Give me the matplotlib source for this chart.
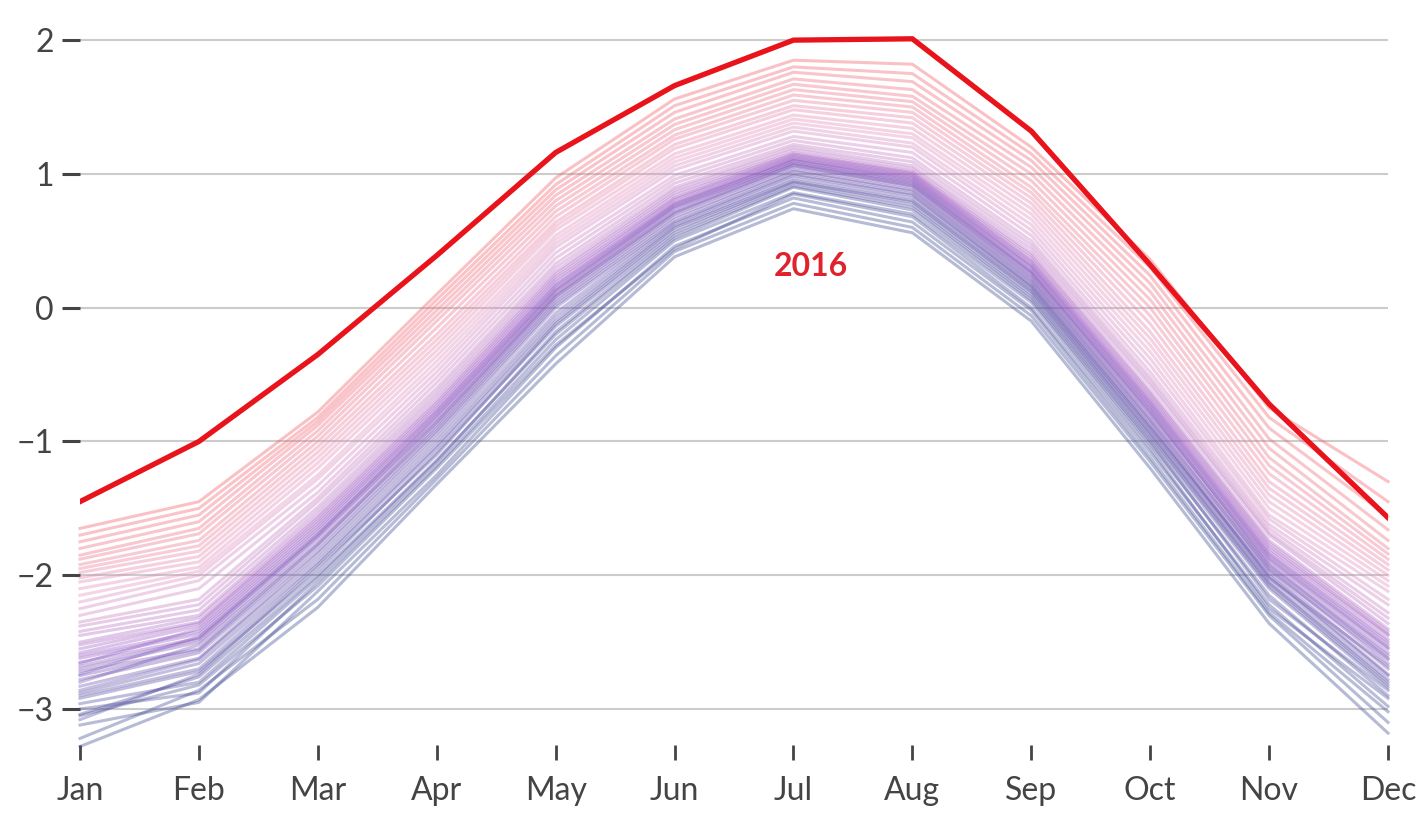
import numpy as np
import matplotlib
matplotlib.use("Agg")
import matplotlib.pyplot as plt
from matplotlib.colors import LinearSegmentedColormap

plt.rcParams['font.family'] = ['Lato', 'DejaVu Sans']

months = ["Jan", "Feb", "Mar", "Apr", "May", "Jun",
          "Jul", "Aug", "Sep", "Oct", "Nov", "Dec"]

# earliest (coldest) years
cold_years = [
    [-3.28, -2.93, -2.24, -1.32, -0.42, 0.38, 0.74, 0.56, -0.10, -1.20, -2.36, -3.18],
    [-3.22, -2.86, -2.18, -1.28, -0.36, 0.42, 0.78, 0.60, -0.06, -1.15, -2.30, -3.10],
    [-3.12, -2.95, -2.12, -1.25, -0.30, 0.46, 0.82, 0.64, -0.02, -1.12, -2.28, -3.02],
    [-3.05, -2.82, -2.08, -1.20, -0.28, 0.44, 0.85, 0.68, 0.00, -1.08, -2.22, -2.98],
    [-3.00, -2.88, -2.05, -1.18, -0.24, 0.50, 0.86, 0.70, 0.04, -1.05, -2.25, -2.92],
    [-3.04, -2.76, -2.00, -1.14, -0.20, 0.52, 0.90, 0.73, 0.06, -1.02, -2.15, -2.90],
    [-2.96, -2.80, -2.02, -1.15, -0.18, 0.54, 0.91, 0.75, 0.08, -1.00, -2.18, -2.86],
    [-2.92, -2.72, -1.97, -1.08, -0.14, 0.56, 0.93, 0.77, 0.10, -0.98, -2.10, -2.84],
    [-3.08, -2.74, -1.94, -1.10, -0.12, 0.58, 0.94, 0.79, 0.12, -0.96, -2.08, -2.82],
    [-2.90, -2.70, -1.92, -1.05, -0.10, 0.60, 0.95, 0.80, 0.13, -0.94, -2.06, -2.80],
    [-2.88, -2.66, -1.90, -1.03, -0.07, 0.61, 0.97, 0.82, 0.15, -0.93, -2.05, -2.78],
    [-2.86, -2.63, -1.87, -1.00, -0.04, 0.63, 0.99, 0.84, 0.16, -0.90, -2.02, -2.75],
]

# middle years
mid_years = [
    [-2.83, -2.62, -1.84, -0.97, 0.00, 0.64, 1.00, 0.85, 0.17, -0.90, -2.00, -2.74],
    [-2.78, -2.58, -1.82, -0.94, 0.02, 0.66, 1.02, 0.87, 0.19, -0.88, -1.98, -2.70],
    [-2.75, -2.56, -1.79, -0.92, 0.04, 0.68, 1.03, 0.88, 0.20, -0.86, -2.02, -2.68],
    [-2.80, -2.52, -1.76, -0.90, 0.06, 0.70, 1.05, 0.90, 0.22, -0.84, -1.95, -2.66],
    [-2.72, -2.55, -1.77, -0.88, 0.08, 0.71, 1.06, 0.91, 0.23, -0.83, -1.96, -2.63],
    [-2.70, -2.50, -1.73, -0.86, 0.09, 0.72, 1.07, 0.92, 0.25, -0.80, -1.93, -2.60],
    [-2.68, -2.48, -1.71, -0.85, 0.10, 0.74, 1.08, 0.93, 0.26, -0.79, -1.90, -2.58],
    [-2.74, -2.46, -1.69, -0.83, 0.12, 0.75, 1.08, 0.94, 0.27, -0.77, -1.92, -2.62],
    [-2.65, -2.47, -1.70, -0.81, 0.13, 0.76, 1.10, 0.95, 0.28, -0.76, -1.88, -2.55],
    [-2.62, -2.44, -1.67, -0.80, 0.14, 0.77, 1.10, 0.96, 0.30, -0.74, -1.87, -2.54],
    [-2.60, -2.42, -1.65, -0.78, 0.16, 0.78, 1.11, 0.97, 0.31, -0.73, -1.85, -2.52],
    [-2.66, -2.40, -1.63, -0.77, 0.17, 0.79, 1.12, 0.98, 0.32, -0.71, -1.84, -2.50],
    [-2.58, -2.38, -1.61, -0.75, 0.19, 0.81, 1.13, 0.99, 0.34, -0.70, -1.82, -2.48],
    [-2.55, -2.36, -1.59, -0.73, 0.21, 0.82, 1.14, 1.00, 0.35, -0.68, -1.80, -2.45],
    [-2.52, -2.35, -1.57, -0.71, 0.23, 0.84, 1.15, 1.01, 0.37, -0.66, -1.78, -2.44],
    [-2.50, -2.32, -1.55, -0.69, 0.25, 0.86, 1.16, 1.02, 0.39, -0.64, -1.76, -2.42],
    [-2.45, -2.30, -1.52, -0.66, 0.27, 0.88, 1.18, 1.04, 0.41, -0.62, -1.74, -2.40],
    [-2.42, -2.26, -1.49, -0.63, 0.30, 0.90, 1.20, 1.06, 0.44, -0.58, -1.70, -2.36],
    [-2.38, -2.22, -1.45, -0.60, 0.33, 0.93, 1.22, 1.09, 0.47, -0.55, -1.68, -2.32],
    [-2.35, -2.18, -1.42, -0.56, 0.37, 0.96, 1.25, 1.12, 0.50, -0.52, -1.65, -2.28],
]

# recent (warmest) years before 2016
warm_years = [
    [-2.30, -2.10, -1.38, -0.52, 0.41, 0.99, 1.28, 1.16, 0.54, -0.48, -1.62, -2.22],
    [-2.25, -2.04, -1.33, -0.48, 0.45, 1.03, 1.32, 1.20, 0.58, -0.43, -1.58, -2.18],
    [-2.20, -2.00, -1.28, -0.44, 0.48, 1.06, 1.35, 1.23, 0.62, -0.38, -1.55, -2.12],
    [-2.15, -1.97, -1.25, -0.40, 0.51, 1.09, 1.38, 1.27, 0.66, -0.33, -1.50, -2.08],
    [-2.10, -1.94, -1.20, -0.36, 0.54, 1.12, 1.41, 1.30, 0.70, -0.28, -1.45, -2.04],
    [-2.05, -1.90, -1.16, -0.32, 0.58, 1.15, 1.44, 1.34, 0.74, -0.23, -1.40, -2.00],
    [-2.02, -1.86, -1.12, -0.28, 0.61, 1.19, 1.48, 1.38, 0.78, -0.18, -1.35, -1.96],
    [-1.98, -1.82, -1.08, -0.24, 0.64, 1.22, 1.51, 1.42, 0.82, -0.12, -1.30, -1.92],
    [-1.95, -1.78, -1.04, -0.20, 0.68, 1.26, 1.55, 1.46, 0.86, -0.06, -1.24, -1.88],
    [-1.92, -1.74, -1.00, -0.15, 0.72, 1.29, 1.59, 1.50, 0.90, 0.00, -1.18, -1.84],
    [-1.88, -1.69, -0.96, -0.10, 0.76, 1.33, 1.63, 1.54, 0.95, 0.06, -1.12, -1.80],
    [-1.85, -1.65, -0.92, -0.06, 0.80, 1.37, 1.67, 1.58, 1.00, 0.12, -1.05, -1.74],
    [-1.80, -1.60, -0.88, -0.02, 0.84, 1.41, 1.71, 1.63, 1.05, 0.18, -0.98, -1.66],
    [-1.75, -1.55, -0.85, 0.02, 0.88, 1.46, 1.76, 1.69, 1.10, 0.24, -0.90, -1.56],
    [-1.70, -1.50, -0.82, 0.06, 0.92, 1.51, 1.80, 1.75, 1.15, 0.30, -0.82, -1.45],
    [-1.65, -1.45, -0.78, 0.10, 0.97, 1.56, 1.85, 1.82, 1.20, 0.36, -0.75, -1.30],
]

year_2016 = [-1.45, -1.00, -0.35, 0.39, 1.16, 1.66, 2.00, 2.01, 1.32, 0.32, -0.72, -1.57]
yticks = [-3, -2, -1, 0, 1, 2]

all_years = cold_years + mid_years + warm_years
x = np.arange(len(months))

cmap = LinearSegmentedColormap.from_list(
    "yrs", ["#34448c", "#6650ac", "#9656c4", "#e08cbc", "#f25560"])

fig = plt.figure(figsize=(14.22, 8.15), dpi=100)
ax = fig.add_axes([80 / 1422, 70 / 815, 1308 / 1422, 745 / 815])

for i, vals in enumerate(all_years):
    c = cmap(i / (len(all_years) - 1))
    ax.plot(x, vals, color=c, lw=2.2, alpha=0.36, clip_on=False, zorder=2)

ax.plot(x, year_2016, color="#e8131b", lw=3.8, zorder=5, solid_joinstyle="miter")
ax.text(6.15, 0.31, "2016", color="#e0222c", fontsize=23, fontweight="bold",
        ha="center", va="center")

for yv in yticks:
    ax.axhline(yv, color="#cccccc", lw=1.5, zorder=1)

ax.set_xlim(0, 11)
ax.set_ylim(-3.269, 2.30)
ax.set_xticks(x)
ax.set_xticklabels(months)
ax.set_yticks(yticks)
ax.set_yticklabels(["\u22123", "\u22122", "\u22121", "0", "1", "2"])

for s in ax.spines.values():
    s.set_visible(False)

ax.tick_params(axis="x", direction="out", length=11, width=2, color="#444444",
               pad=11, labelsize=23, labelcolor="#444444")
ax.tick_params(axis="y", direction="out", length=13, width=2.2, color="#444444",
               pad=6, labelsize=23, labelcolor="#444444")

fig.savefig("out.png", dpi=100, facecolor="white")
